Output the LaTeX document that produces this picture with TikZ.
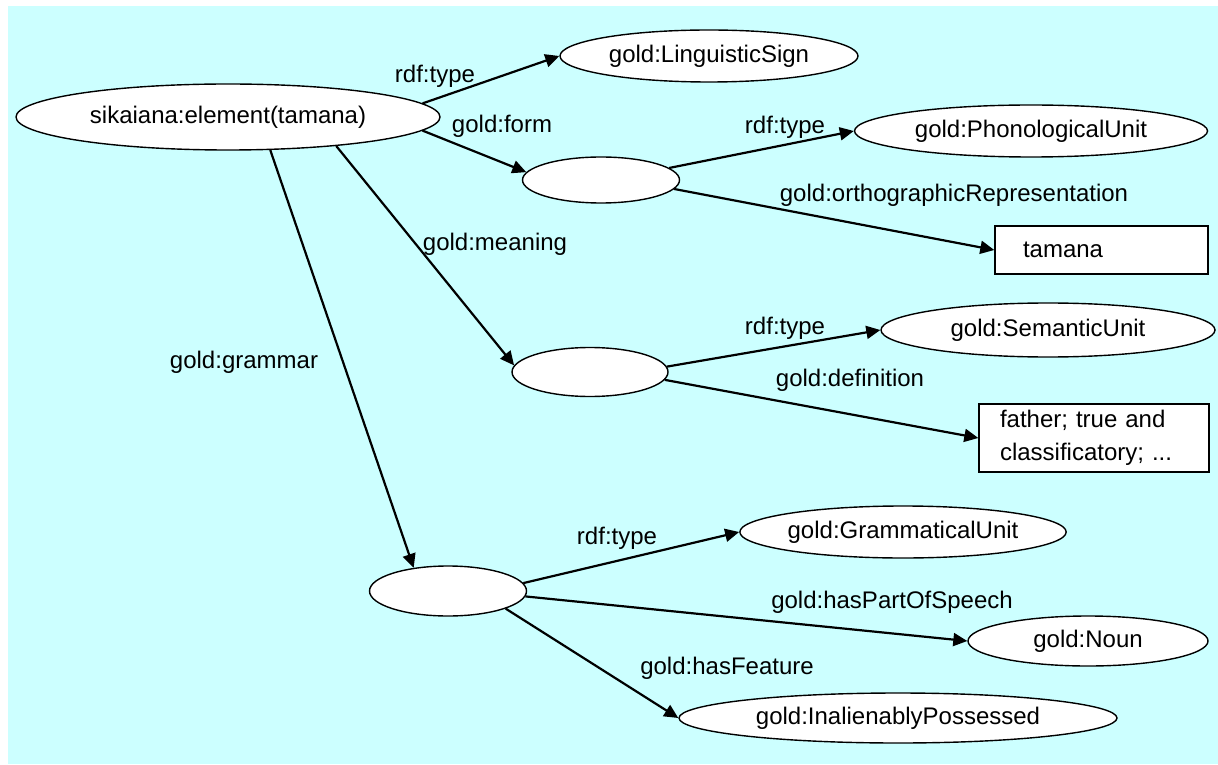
\documentclass[tikz,border=0pt]{standalone}
\usepackage{fontspec}
\setmainfont{Liberation Sans}
\usetikzlibrary{shapes.geometric,arrows.meta}
\definecolor{paleblue}{RGB}{204,255,255}

\begin{document}
\begin{tikzpicture}[x=0.5pt,y=-0.5pt,
    font=\fontsize{12}{14.4}\selectfont,
    res/.style={ellipse,draw,line width=0.7pt,fill=white,inner sep=0pt},
    lit/.style={rectangle,draw,line width=0.7pt,fill=white,inner ysep=0pt,align=left},
    prop/.style={line width=1.1pt,-{Triangle[length=7pt,width=6.5pt]}},
    lbl/.style={inner sep=0pt}]
  \useasboundingbox (0,0) rectangle (1218,764);
  \fill[paleblue] (8,6) rectangle (1218,764);

  % Resources
  \node[res,minimum width=212pt,minimum height=33pt] (elem) at (228,117) {sikaiana:element(tamana)};
  \node[res,minimum width=149pt,minimum height=26pt] (sign) at (709,56) {gold:LinguisticSign};
  \node[res,minimum width=78.5pt,minimum height=23pt] (form) at (601,180) {};
  \node[res,minimum width=176.5pt,minimum height=26pt] (phon) at (1031,131) {gold:PhonologicalUnit};
  \node[res,minimum width=78pt,minimum height=24.5pt] (meaning) at (590,372) {};
  \node[res,minimum width=167pt,minimum height=27pt] (sem) at (1048,330) {gold:SemanticUnit};
  \node[res,minimum width=78.5pt,minimum height=25pt] (gram) at (448,591) {};
  \node[res,minimum width=162pt,minimum height=26pt] (gunit) at (903,532) {gold:GrammaticalUnit};
  \node[res,minimum width=120pt,minimum height=25pt] (noun) at (1088,641) {gold:Noun};
  \node[res,minimum width=219pt,minimum height=25pt] (inal) at (898,718) {gold:InalienablyPossessed};

  % Literals
  \node[lit,inner xsep=14pt,text width=78.5pt,minimum height=24pt] (orth) at (1101.5,250) {tamana};
  \node[lit,inner xsep=10.5pt,text width=94pt,minimum height=34pt,
        font=\fontsize{12}{16.5}\selectfont] (defn) at (1094,438) {father; true and\\classificatory; ...};

  % Properties
  \draw[prop] (elem.4) -- (sign.west);
  \draw[prop] (elem.-4) -- (form.174);
  \draw[prop] (form.10) -- (phon.west);
  \draw[prop] (form.-7) -- (orth.west);
  \draw[prop] (elem.-15) -- (meaning.175);
  \draw[prop] (meaning.4) -- (sem.west);
  \draw[prop] (meaning.-6) -- (defn.west);
  \draw[prop] (elem.-38) -- (gram.146);
  \draw[prop] (gram.6) -- (gunit.west);
  \draw[prop] (gram.-4) -- (noun.west);
  \draw[prop] (gram.-17) -- (inal.west);

  % Property names
  \node[lbl] (l-sign) at (435,76) {rdf:type};
  \node[lbl] (l-form) at (502,126) {gold:form};
  \node[lbl] (l-phon) at (785,127) {rdf:type};
  \node[lbl] (l-orth) at (954,195) {gold:orthographicRepresentation};
  \node[lbl] (l-meaning) at (495,244) {gold:meaning};
  \node[lbl] (l-sem) at (785,328) {rdf:type};
  \node[lbl] (l-defn) at (850,380) {gold:definition};
  \node[lbl] (l-gram) at (244,362) {gold:grammar};
  \node[lbl] (l-gunit) at (617,538) {rdf:type};
  \node[lbl] (l-noun) at (892,602) {gold:hasPartOfSpeech};
  \node[lbl] (l-inal) at (727,668) {gold:hasFeature};
\end{tikzpicture}
\end{document}
